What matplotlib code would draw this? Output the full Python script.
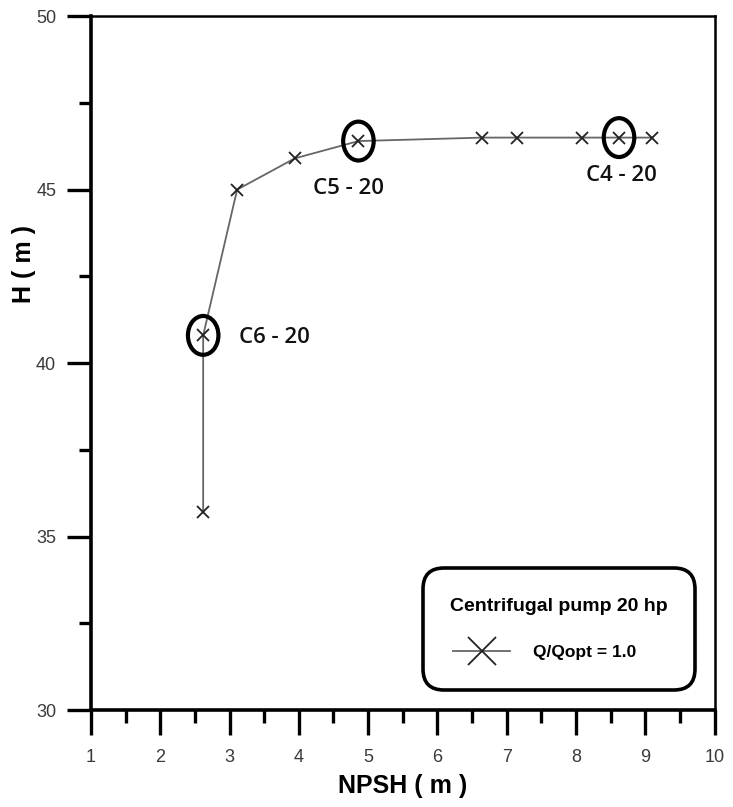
import matplotlib
matplotlib.use("Agg")
import matplotlib.pyplot as plt
from matplotlib.patches import Ellipse
from matplotlib.ticker import MultipleLocator

# NPSH (m) vs head H (m) at Q/Qopt = 1.0
npsh = [2.62, 2.62, 3.11, 3.94, 4.86, 6.65, 7.15, 8.09, 8.62, 9.10]
head = [35.7, 40.8, 45.0, 45.9, 46.4, 46.5, 46.5, 46.5, 46.5, 46.5]

# labelled test points
tags = ["C6 - 20", "C5 - 20", "C4 - 20"]
tag_x = [2.62, 4.86, 8.62]
tag_y = [40.8, 46.4, 46.5]

plt.rcParams["font.family"] = ["Liberation Sans", "DejaVu Sans"]

fig = plt.figure(figsize=(7.33, 8.07), dpi=100)
ax = fig.add_axes([0.124, 0.120, 0.851, 0.860])

ax.plot(npsh, head, color="#666666", lw=1.3, marker="x", ms=8,
        mec="#222222", mew=1.3, label="Q/Qopt = 1.0", zorder=3)

for x, y in zip(tag_x, tag_y):
    ax.add_patch(Ellipse((x, y), 0.44, 1.12, fill=False, ec="black",
                         lw=3, zorder=4))

offsets = [(0.52, -0.05), (-0.66, -1.36), (-0.47, -1.08)]
for t, x, y, (dx, dy) in zip(tags, tag_x, tag_y, offsets):
    ax.text(x + dx, y + dy, t, fontsize=16, family=["Open Sans", "DejaVu Sans"],
            fontweight="semibold", va="center", ha="left", color="#111111")

ax.set_xlim(1, 10)
ax.set_ylim(30, 50)
ax.xaxis.set_major_locator(MultipleLocator(1))
ax.xaxis.set_minor_locator(MultipleLocator(0.5))
ax.yaxis.set_major_locator(MultipleLocator(5))
ax.yaxis.set_minor_locator(MultipleLocator(2.5))

ax.tick_params(which="both", direction="out", width=2.4, labelsize=13,
               labelcolor="#3a3a3a")
ax.tick_params(axis="x", which="major", length=18, pad=10)
ax.tick_params(axis="x", which="minor", length=9)
ax.tick_params(axis="y", which="major", length=17, pad=8)
ax.tick_params(axis="y", which="minor", length=9)

for s in ["left", "bottom"]:
    ax.spines[s].set_linewidth(2.6)
for s in ["top", "right"]:
    ax.spines[s].set_linewidth(1.8)

ax.set_xlabel("NPSH ( m )", fontsize=18, fontweight="bold", labelpad=6)
ax.set_ylabel("H ( m )", fontsize=18, fontweight="bold", va="center")
ax.yaxis.set_label_coords(24 / 733, 1 - 264 / 807, transform=fig.transFigure)

leg = ax.legend(loc="lower left", bbox_to_anchor=(0.532, 0.029, 0.436, 0.173),
                mode="expand", title="Centrifugal pump 20 hp",
                title_fontproperties={"weight": "bold", "size": 14},
                prop={"weight": "bold", "size": 12.5}, fancybox=True,
                handlelength=3.3, handletextpad=1.3, borderpad=1.75,
                borderaxespad=0, labelspacing=0.5, markerscale=2.6,
                framealpha=1)
leg.get_frame().set_edgecolor("black")
leg.get_frame().set_linewidth(2.6)
leg.get_frame().set_boxstyle("round,pad=0,rounding_size=1.2")
leg._legend_box.sep = 21

fig.savefig("out.png", dpi=100)
